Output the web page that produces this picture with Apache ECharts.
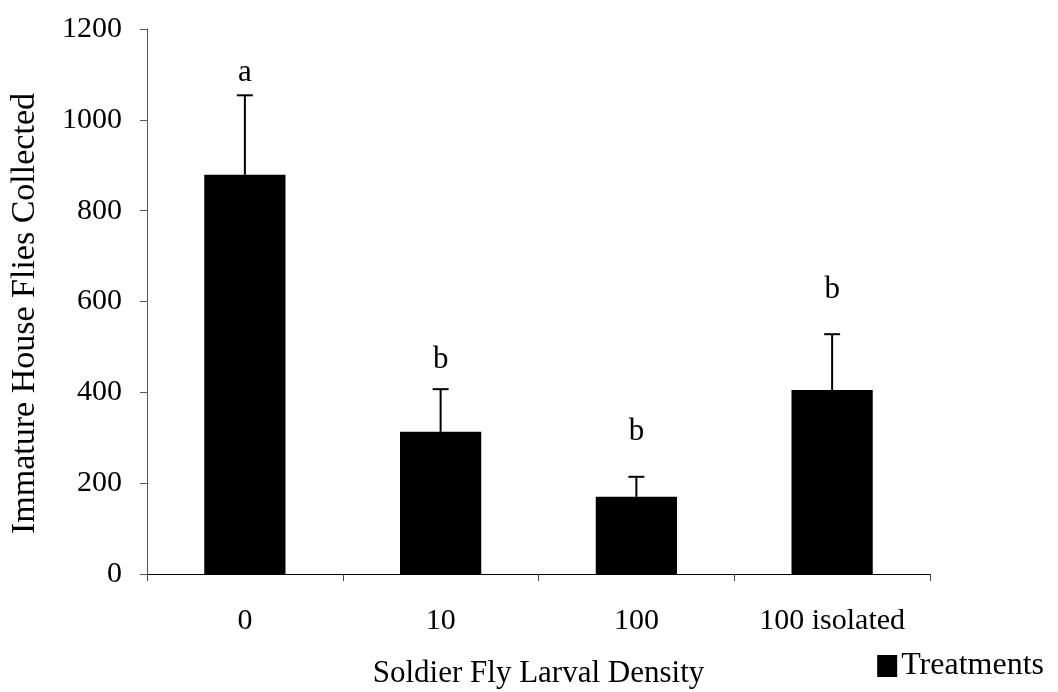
<!DOCTYPE html>
<html>
<head>
<meta charset="utf-8">
<script src="https://cdn.jsdelivr.net/npm/echarts@6/dist/echarts.min.js"></script>
<style>
html,body{margin:0;padding:0;background:#fff;}
#chart{width:1058px;height:692px;}
</style>
</head>
<body>
<div id="chart"></div>
<script>
const categories = ['0', '10', '100', '100 isolated'];
const means = [879, 313, 170, 405];
const errors = [175, 94, 44, 123];
const letters = ['a', 'b', 'b', 'b'];
const letterY = [1103, 471, 313, 625];
const yTicks = { min: 0, max: 1200, interval: 200 };

const FONT = 'Liberation Serif';
const chart = echarts.init(document.getElementById('chart'));

const errData = categories.map((c, i) => [i, means[i], means[i] + errors[i]]);
const letterData = categories.map((c, i) => [i, letterY[i], letters[i]]);

chart.setOption({
  animation: false,
  backgroundColor: '#fff',
  grid: { left: 147, right: 128, top: 29, bottom: 118, containLabel: false, outerBoundsMode: 'none' },
  legend: {
    data: ['Treatments'],
    right: 14,
    top: 650,
    padding: 0,
    itemWidth: 20,
    itemHeight: 22,
    itemGap: 4,
    icon: 'rect',
    textStyle: { fontFamily: FONT, fontSize: 32, color: '#000', padding: [0, 0, 0, -1] }
  },
  xAxis: {
    type: 'category',
    data: categories,
    name: 'Soldier Fly Larval Density',
    nameLocation: 'middle',
    nameGap: 84,
    nameTextStyle: { fontFamily: FONT, fontSize: 31, color: '#000' },
    axisLine: { lineStyle: { color: '#000', width: 1 } },
    axisTick: { show: true, length: 7, lineStyle: { color: '#444' } },
    axisLabel: { fontFamily: FONT, fontSize: 30, color: '#000', margin: 32 },
    splitLine: { show: false }
  },
  yAxis: {
    type: 'value',
    min: yTicks.min,
    max: yTicks.max,
    interval: yTicks.interval,
    name: 'Immature House Flies Collected',
    nameLocation: 'middle',
    nameGap: 105,
    nameTextStyle: { fontFamily: FONT, fontSize: 34, color: '#000', padding: [0, 24, 0, 0] },
    axisLine: { show: true, lineStyle: { color: '#555', width: 1 } },
    axisTick: { show: true, length: 7, lineStyle: { color: '#555' } },
    axisLabel: { fontFamily: FONT, fontSize: 30, color: '#000', margin: 25, formatter: function (v) { return String(v); } },
    splitLine: { show: false }
  },
  series: [
    {
      name: 'Treatments',
      type: 'bar',
      data: means,
      barWidth: '41.5%',
      itemStyle: { color: '#000' },
      z: 2
    },
    {
      name: 'err',
      type: 'custom',
      data: errData,
      z: 3,
      renderItem: function (params, api) {
        const x = api.value(0);
        const lo = api.coord([x, api.value(1)]);
        const hi = api.coord([x, api.value(2)]);
        const hw = 8;
        return {
          type: 'group',
          children: [
            { type: 'line', shape: { x1: lo[0], y1: lo[1], x2: hi[0], y2: hi[1] }, style: { stroke: '#000', lineWidth: 2 } },
            { type: 'line', shape: { x1: hi[0] - hw, y1: hi[1], x2: hi[0] + hw, y2: hi[1] }, style: { stroke: '#000', lineWidth: 2 } }
          ]
        };
      }
    },
    {
      name: 'letters',
      type: 'custom',
      data: letterData,
      z: 4,
      renderItem: function (params, api) {
        const p = api.coord([api.value(0), api.value(1)]);
        return {
          type: 'text',
          x: p[0],
          y: p[1],
          style: {
            text: letters[params.dataIndex],
            fontFamily: FONT,
            fontSize: 31,
            fill: '#000',
            align: 'center',
            verticalAlign: 'middle'
          }
        };
      }
    }
  ]
});
</script>
</body>
</html>
